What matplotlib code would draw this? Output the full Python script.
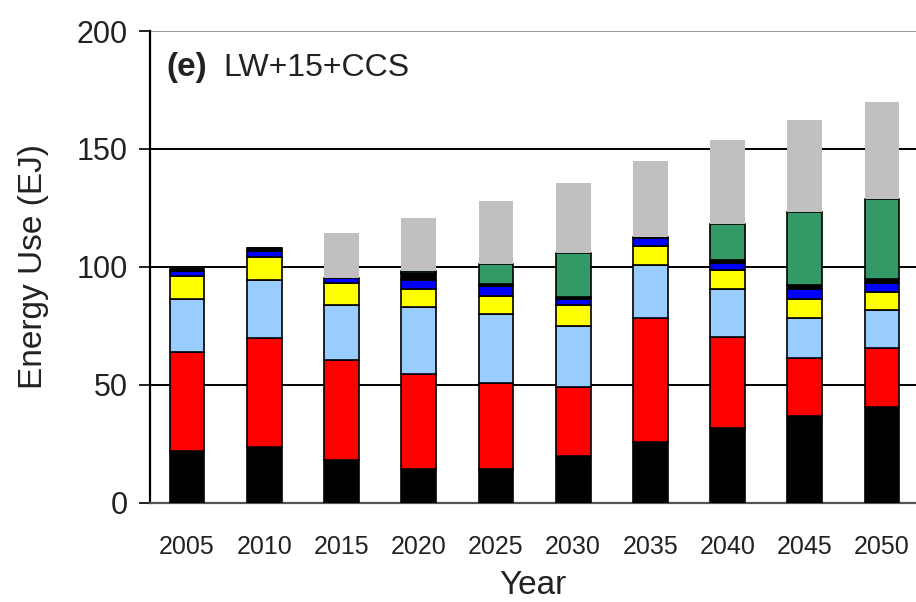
import numpy as np
from matplotlib import pyplot as plt

plt.rcParams['font.family'] = ['Liberation Sans', 'DejaVu Sans']

# Energy use by source (EJ).
years = ["2005", "2010", "2015", "2020", "2025", "2030", "2035", "2040", "2045", "2050"]
coal = [22.2, 23.9, 18.2, 14.3, 14.3, 19.9, 26.0, 31.6, 36.9, 40.8]
oil = [41.9, 45.9, 42.4, 40.4, 36.4, 29.1, 52.5, 38.9, 24.7, 24.7]
gas = [22.2, 24.7, 23.3, 28.2, 29.4, 26.0, 22.3, 20.2, 16.9, 16.3]
nuclear = [9.9, 9.9, 9.2, 7.8, 7.6, 8.9, 8.1, 8.0, 7.9, 7.7]
hydro = [2.2, 2.5, 2.1, 3.8, 4.4, 2.4, 3.2, 2.8, 4.3, 3.6]
other = [0.6, 1.0, 0.3, 2.8, 0.5, 1.1, 0.5, 1.5, 1.7, 1.7]
ccs = [0, 0, 0, 1.0, 8.5, 18.7, 0, 15.1, 31.0, 34.0]
renew = [0, 0, 18.8, 22.3, 26.8, 29.4, 32.5, 35.7, 38.9, 41.2]

series = [coal, oil, gas, nuclear, hydro, other, ccs, renew]
colors = ["#000000", "#FF0000", "#99CCFF", "#FFFF00", "#0000FF", "#000000", "#339966", "#C0C0C0"]

fig = plt.figure(figsize=(9.16, 6.02), dpi=100)
ax = fig.add_axes([0.1638, 0.1645, 0.8362, 0.784])

x = np.arange(len(years))
bottom = np.zeros(len(years))
for vals, col in zip(series, colors):
    vals = np.array(vals)
    edge = "none" if col == "#C0C0C0" else "black"
    ax.bar(x, vals, 0.45, bottom=bottom, color=col, edgecolor=edge,
           linewidth=1.2, zorder=3)
    bottom += vals

ax.set_xlim(-0.48, 9.44)
ax.set_ylim(0, 200)
ax.set_yticks([0, 50, 100, 150, 200])
ax.set_xticks(x)
ax.set_xticklabels(years)
ax.yaxis.grid(True, color="black", linewidth=1.4, zorder=0)
ax.get_ygridlines()[-1].set_color("#999999")
ax.set_axisbelow(True)

for side in ["top", "right"]:
    ax.spines[side].set_visible(False)
ax.spines["left"].set_linewidth(1.6)
ax.spines["bottom"].set_linewidth(1.6)
ax.spines["bottom"].set_color("#555555")

ax.tick_params(axis="y", labelsize=22, length=8, width=1.4, pad=8,
               colors="#222222")
ax.tick_params(axis="x", labelsize=18, length=0, pad=23, colors="#222222")
ax.set_ylabel("Energy Use (EJ)", fontsize=24, labelpad=20, color="#222222")
ax.set_xlabel("Year", fontsize=24, labelpad=8, color="#222222")

ax.text(0.021, 0.922, "(e)", transform=ax.transAxes, fontsize=24,
        fontweight="bold", va="center", ha="left", color="#222222")
ax.text(0.096, 0.922, "LW+15+CCS", transform=ax.transAxes, fontsize=23,
        va="center", ha="left", color="#222222")

fig.savefig("out.png", dpi=100)
